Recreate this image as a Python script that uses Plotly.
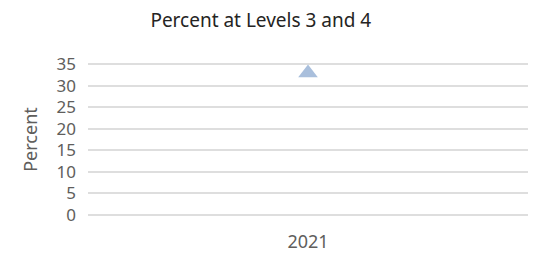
import plotly.graph_objects as go

years = ["2021"]
percent_levels_3_4 = [33]
y_ticks = [0, 5, 10, 15, 20, 25, 30, 35]

fig = go.Figure()
fig.add_trace(go.Scatter(
    x=years, y=percent_levels_3_4, mode="markers",
    marker=dict(symbol="triangle-up", size=17, color="#a9bfdc"),
    showlegend=False,
))

fig.update_layout(
    width=540, height=254,
    margin=dict(l=88, r=12, t=60, b=35, autoexpand=False),
    paper_bgcolor="white", plot_bgcolor="white",
    font=dict(family="Noto Sans, Open Sans, sans-serif", color="#605e5c"),
    title=dict(text="Percent at Levels 3 and 4", x=0.483, xanchor="center", y=0.92, yanchor="middle",
               font=dict(size=19, color="#252423")),
    xaxis=dict(showgrid=False, showline=False, zeroline=False, ticks="",
               tickfont=dict(size=18), ticklabelstandoff=10, automargin=False),
    yaxis=dict(range=[-1, 36], tickvals=y_ticks, showgrid=True, gridcolor="#dedede", gridwidth=2,
               zeroline=False, showline=False, tickfont=dict(size=17), ticklabelstandoff=11,
               automargin=False,
               title=dict(text="Percent", font=dict(size=18), standoff=14)),
)

fig.write_html("out.html", config={"displayModeBar": False},
               post_script="document.body.style.margin='0';")
